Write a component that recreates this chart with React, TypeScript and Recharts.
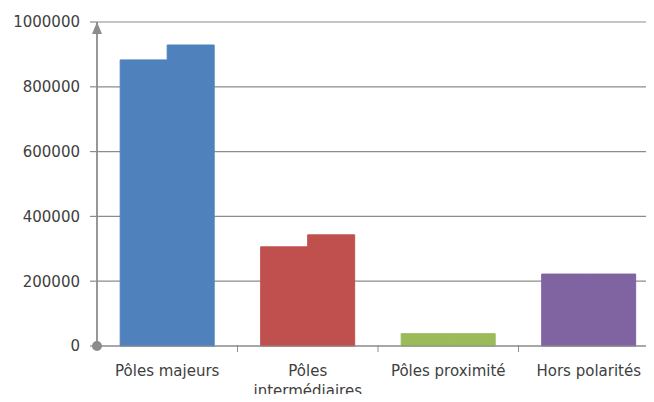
import React from "react";
import { BarChart, Bar, XAxis, YAxis, CartesianGrid, Cell, Text } from "recharts";

const categories = ["Pôles majeurs", "Pôles intermédiaires", "Pôles proximité", "Hors polarités"];
const firstValues = [883000, 306000, 38000, 222000];
const secondValues = [929000, 343000, 38000, 222000];
const yTicks = [0, 200000, 400000, 600000, 800000, 1000000];

const COLORS = ["#4F81BD", "#C0504D", "#9BBB59", "#8064A2"];
const AXIS = "#8c8c8c";
const LABEL = "#404040";
const FONT = "'DejaVu Sans', sans-serif";

const data = categories.map((name, i) => ({ name, first: firstValues[i], second: secondValues[i] }));

// category label, plus a small tick mark on the right edge of each band
function CategoryTick(props: any) {
  const { x, y, payload } = props;
  const half = payload.offset || 0;
  return (
    <g>
      <line x1={x + half} x2={x + half} y1={y - 20} y2={y - 13} stroke={AXIS} />
      <Text
        x={x}
        y={y}
        width={half * 2}
        textAnchor="middle"
        verticalAnchor="start"
        lineHeight="1.36em"
        fill={LABEL}
        style={{ fontSize: 15, fontFamily: FONT }}
      >
        {payload.value}
      </Text>
    </g>
  );
}

export default function App() {
  return (
    <div style={{ margin: -8, width: 654, height: 402, overflow: "hidden", background: "#fff" }}>
      <svg width={0} height={0} style={{ position: "absolute" }}>
        <defs>
          <marker id="yArrow" markerUnits="userSpaceOnUse" markerWidth={12} markerHeight={10} refX={12} refY={5} orient="auto-start-reverse">
            <path d="M0,0 L12,5 L0,10 z" fill={AXIS} />
          </marker>
          <marker id="yDot" markerUnits="userSpaceOnUse" markerWidth={12} markerHeight={12} refX={6} refY={6} orient="0">
            <circle cx={6} cy={6} r={5} fill={AXIS} />
          </marker>
        </defs>
      </svg>
      <BarChart
        width={670}
        height={402}
        data={data}
        margin={{ top: 22, right: 11, bottom: 0, left: 0 }}
        barCategoryGap="16.5%"
        barGap={0}
      >
        <CartesianGrid vertical={false} stroke={AXIS} strokeWidth={1.2} />
        <XAxis
          dataKey="name"
          height={56}
          tickSize={7}
          tickMargin={12}
          tickLine={false}
          axisLine={{ stroke: AXIS, strokeWidth: 1.2 }}
          interval={0}
          tick={<CategoryTick />}
        />
        <YAxis
          width={97}
          domain={[0, 1000000]}
          ticks={yTicks}
          tickSize={7}
          tickMargin={10}
          tickLine={{ stroke: AXIS, strokeWidth: 1.2 }}
          axisLine={{ stroke: AXIS, strokeWidth: 1.8, markerStart: "url(#yArrow)", markerEnd: "url(#yDot)" }}
          tick={{ fill: LABEL, fontSize: 15, fontFamily: FONT }}
        />
        <Bar dataKey="first" isAnimationActive={false}>
          {data.map((d, i) => (
            <Cell key={`a-${i}`} fill={COLORS[i]} stroke={COLORS[i]} strokeWidth={1} />
          ))}
        </Bar>
        <Bar dataKey="second" isAnimationActive={false}>
          {data.map((d, i) => (
            <Cell key={`b-${i}`} fill={COLORS[i]} stroke={COLORS[i]} strokeWidth={1} />
          ))}
        </Bar>
      </BarChart>
    </div>
  );
}
